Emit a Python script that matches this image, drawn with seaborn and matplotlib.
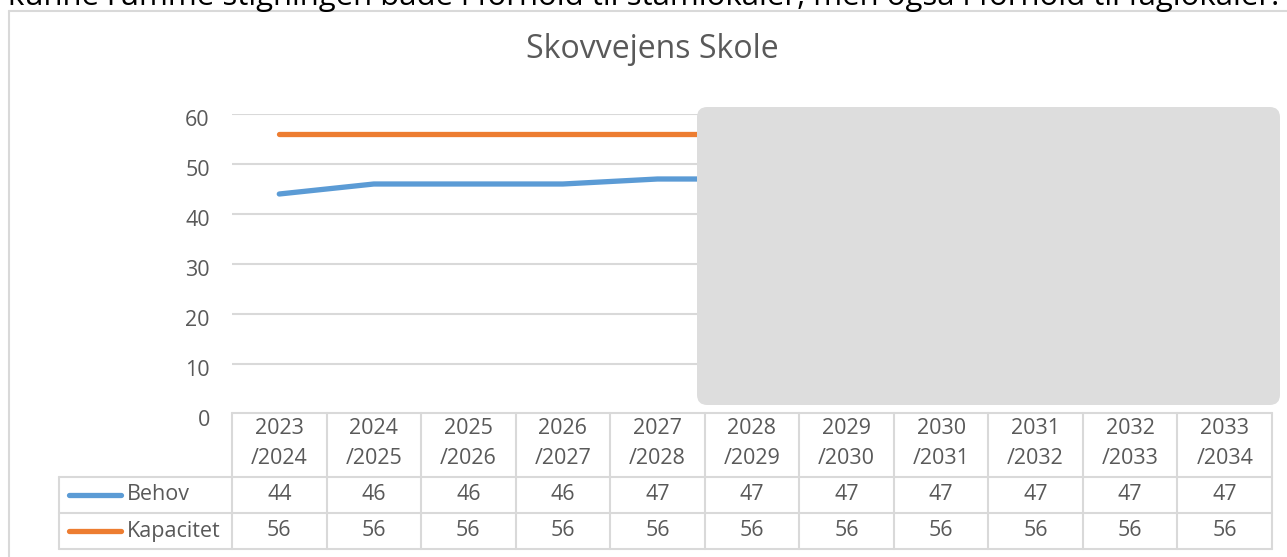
import numpy as np
import pandas as pd
import matplotlib
matplotlib.use("Agg")
import matplotlib.pyplot as plt
import matplotlib.transforms as mtrans
from matplotlib.patches import FancyBboxPatch
from matplotlib.lines import Line2D
import seaborn as sns

# ---------------- data ----------------
years = ["2023/2024", "2024/2025", "2025/2026", "2026/2027", "2027/2028", "2028/2029",
         "2029/2030", "2030/2031", "2031/2032", "2032/2033", "2033/2034"]
behov = [44, 46, 46, 46, 47, 47, 47, 47, 47, 47, 47]
kapacitet = [56, 56, 56, 56, 56, 56, 56, 56, 56, 56, 56]
series_names = ["Behov", "Kapacitet"]
series_colors = {"Behov": "#5B9BD5", "Kapacitet": "#ED7D31"}
yticks = [0, 10, 20, 30, 40, 50, 60]
title = "Skovvejens Skole"
top_text = "kunne rumme stigningen både i forhold til stamlokaler, men også i forhold til faglokaler."

df = pd.DataFrame({
    "idx": list(range(len(years))) * 2,
    "value": behov + kapacitet,
    "series": ["Behov"] * len(years) + ["Kapacitet"] * len(years),
})

sns.set_theme(style="white")
plt.rcParams["font.family"] = ["Open Sans", "DejaVu Sans"]

W, H = 1287, 557
fig = plt.figure(figsize=(W / 100, H / 100), dpi=100)
fig.patch.set_facecolor("white")


def fx(px):
    return px / W


def fy(py):
    return 1 - py / H


TXT = "#595959"
GRID = "#D9D9D9"
FS = 15.5

# paragraph text at top (cut off by the screenshot edge in the reference)
fig.text(fx(8), fy(5), top_text, fontsize=22.4, color="black", ha="left", va="baseline")

# chart frame
fig.add_artist(Line2D([fx(9), fx(9)], [fy(11), fy(560)], transform=fig.transFigure, color=GRID, lw=1.5))
fig.add_artist(Line2D([fx(9), fx(1290)], [fy(11), fy(11)], transform=fig.transFigure, color=GRID, lw=1.5))

# title
fig.text(fx(652), fy(58), title, fontsize=23, color=TXT, ha="center", va="baseline")

ax = fig.add_axes([fx(232), fy(414), fx(1272) - fx(232), fy(114) - fy(414)])
sns.lineplot(data=df, x="idx", y="value", hue="series", palette=series_colors,
             linewidth=3.8, legend=False, ax=ax, solid_capstyle="round")
ax.set_xlim(-0.5, len(years) - 0.5)
ax.set_ylim(0, 60)
ax.set_yticks(yticks)
ax.set_yticklabels([str(t) for t in yticks])
ax.set_xticks([])
ax.set_xlabel("")
ax.set_ylabel("")
for s in ax.spines.values():
    s.set_visible(False)
ax.yaxis.grid(True, color=GRID, lw=1.5)
ax.set_axisbelow(True)
ax.tick_params(axis="y", length=0, pad=16, labelsize=FS, labelcolor=TXT)
off = mtrans.ScaledTranslation(0, -0.045, fig.dpi_scale_trans)
for lab in ax.get_yticklabels():
    lab.set_transform(lab.get_transform() + off)

# ---------------- data table ----------------
trans = mtrans.blended_transform_factory(ax.transData, fig.transFigure)
n = len(years)
for i in range(n + 1):
    fig.add_artist(Line2D([i - 0.5, i - 0.5], [fy(413), fy(549)], transform=trans, color=GRID, lw=1.5))
fig.add_artist(Line2D([fx(59), fx(59)], [fy(477), fy(549)], transform=fig.transFigure, color=GRID, lw=1.5))
fig.add_artist(Line2D([-0.5, n - 0.5], [fy(413), fy(413)], transform=trans, color=GRID, lw=1.5))
for yy in (477, 513, 549):
    fig.add_artist(Line2D([fx(59), fx(1272)], [fy(yy), fy(yy)], transform=fig.transFigure, color=GRID, lw=1.5))

for i, lab in enumerate(years):
    a, b = lab.split("/")
    ax.text(i, fy(429), a, transform=trans, ha="center", va="center", fontsize=FS, color=TXT)
    ax.text(i, fy(459), "/" + b, transform=trans, ha="center", va="center", fontsize=FS, color=TXT)

row_y = {"Behov": 495, "Kapacitet": 531}
row_vals = {"Behov": behov, "Kapacitet": kapacitet}
for name in series_names:
    yy = row_y[name]
    fig.add_artist(Line2D([fx(69), fx(121)], [fy(yy), fy(yy)], transform=fig.transFigure,
                          color=series_colors[name], lw=3.8, solid_capstyle="round"))
    fig.text(fx(127), fy(yy), name, ha="left", va="center", fontsize=FS, color=TXT)
    for i, v in enumerate(row_vals[name]):
        ax.text(i, fy(yy), str(v), transform=trans, ha="center", va="center", fontsize=FS, color=TXT)

# gray redaction box
box = FancyBboxPatch((fx(697), fy(405)), fx(1280) - fx(697), fy(107) - fy(405),
                     boxstyle="round,pad=0,rounding_size=0.008", transform=fig.transFigure,
                     facecolor="#DDDDDD", edgecolor="none", zorder=10, mutation_aspect=W / H)
fig.add_artist(box)

fig.savefig("out.png", dpi=100)
